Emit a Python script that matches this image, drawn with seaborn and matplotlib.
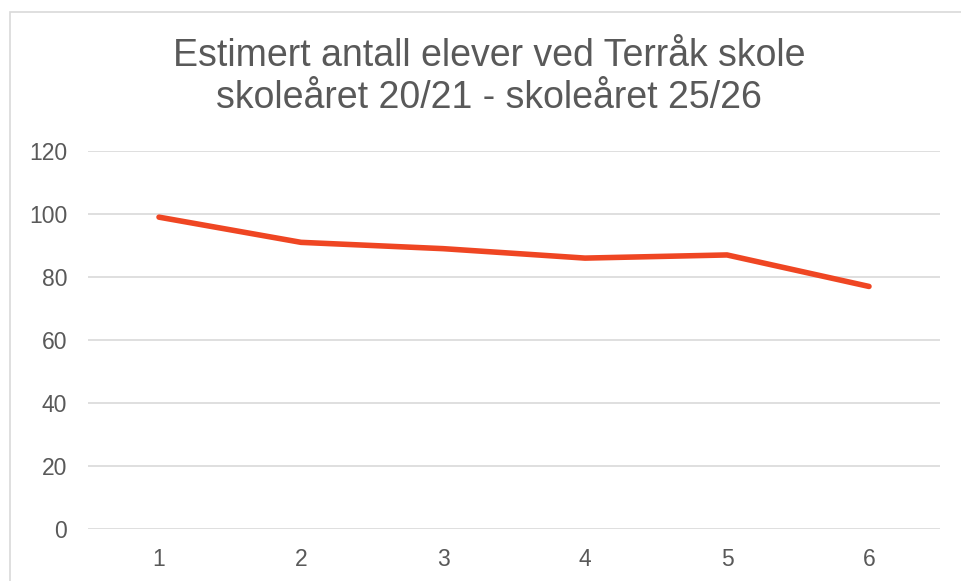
import matplotlib
matplotlib.use("Agg")
import matplotlib.pyplot as plt
import seaborn as sns
import pandas as pd
from matplotlib.patches import Rectangle

categories = ["1", "2", "3", "4", "5", "6"]
values = [99, 91, 89, 86, 87, 77]
yticks = [0, 20, 40, 60, 80, 100, 120]
title = "Estimert antall elever ved Terråk skole\nskoleåret 20/21 - skoleåret 25/26"

sns.set_theme(style="white")
plt.rcParams["font.family"] = ["Liberation Sans", "DejaVu Sans"]

df = pd.DataFrame({"x": categories, "y": values})

fig = plt.figure(figsize=(9.61, 5.81), dpi=100)
ax = fig.add_axes([88 / 961, 52 / 581, (940 - 88) / 961, (529 - 151) / 581])

sns.lineplot(data=df, x="x", y="y", ax=ax, color="#EF4623", linewidth=4.0,
             sort=False, solid_capstyle="round", solid_joinstyle="round")

ax.set_ylim(0, 120)
ax.set_xlim(-0.5, len(categories) - 0.5)
ax.set_yticks(yticks)
ax.set_yticklabels([str(v) for v in yticks])
ax.set_xlabel("")
ax.set_ylabel("")
ax.grid(axis="y", color="#D9D9D9", linewidth=1.2)
ax.grid(axis="x", visible=False)
ax.set_axisbelow(True)
for s in ax.spines.values():
    s.set_visible(False)
ax.tick_params(axis="both", length=0, labelsize=16.5, labelcolor="#595959")
ax.tick_params(axis="y", pad=15)
ax.tick_params(axis="x", pad=14)

fig.text(489 / 961, 1 - 77 / 581, title, ha="center", va="center",
         fontsize=27, color="#595959", linespacing=1.2)

fig.patches.append(Rectangle((9.5 / 961, -0.1), 1.2, 1 - 11.5 / 581 + 0.1,
                             transform=fig.transFigure, fill=False,
                             edgecolor="#D9D9D9", linewidth=1.2))

fig.savefig("out.png", dpi=100, facecolor="white")
